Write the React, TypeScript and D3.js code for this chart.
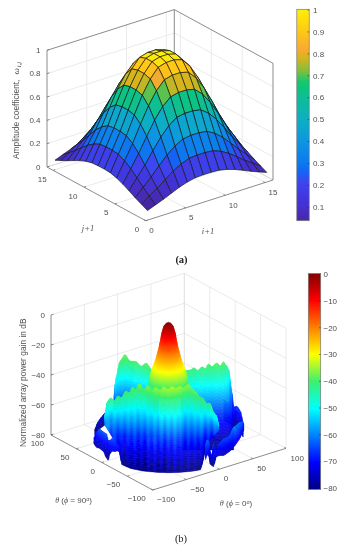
import React, { useMemo } from "react";
import * as d3 from "d3";

// ---------- panel (a) data ----------
const taper = [0.19, 0.33, 0.47, 0.63, 0.78, 0.9, 0.98, 1, 1, 0.98, 0.9, 0.78, 0.63, 0.47, 0.33, 0.19];
const ticksA = [0, 5, 10, 15];
const zTicksA = [0, 0.2, 0.4, 0.6, 0.8, 1];
const barTicksA = [0.1, 0.2, 0.3, 0.4, 0.5, 0.6, 0.7, 0.8, 0.9, 1];
const parulaV = [0.04, 0.08, 0.15, 0.22, 0.26, 0.3, 0.4, 0.5, 0.6, 0.67, 0.72, 0.78, 0.82, 0.9, 0.95, 1];
const parulaC = ["#4628a5", "#462dc3", "#4137e1", "#3c46f0", "#1464f5", "#0a78f0", "#0a96e1", "#0aafc3", "#0abe96", "#14c86e", "#82be3c", "#d7b41e", "#faaa32", "#ffc814", "#ffdc0a", "#faf00a"];

// ---------- panel (b) data (gain in dB, s = across view, d = towards viewer, in degrees) ----------
const ticksB = [-100, -50, 0, 50, 100];
const zTicksB = [-80, -60, -40, -20, 0];
const barTicksB = [0, -10, -20, -30, -40, -50, -60, -70, -80];
const jetG = [-80, -70, -60, -50, -40, -30, -20, -10, 0];
const jetC = ["#000082", "#0000ff", "#0080ff", "#00ffff", "#3cf06e", "#ffff00", "#ff8000", "#ff0000", "#800000"];
const lobeGain = [-46, -38, -32, -26, -20, -14, -7, -3, -1, 0];
const lobeRadius = [25, 23.3, 20.3, 16.1, 13.1, 10.7, 8.4, 6, 3, 0];
const wallT = [0, 0.3, 0.6, 1];
const wallFrac = [1, 0.68, 0.34, 0];

const frontS = [-76, -73, -69, -64.5, -60.5, -56, -51, -47, -43, -39, -34.6, -29.5, -24.5, -20, -15, -10, -5.4, -0.5, 4, 9, 13.7, 18, 23, 28, 33, 37, 41, 45.5, 50, 54, 57, 60];
const frontGain = [-52, -43, -41, -43, -40, -42, -39, -41, -38, -40, -36.5, -39, -36, -38, -35, -36, -33.5, -34.5, -33, -34.5, -34, -36, -35, -37, -37.5, -39.5, -39.5, -42, -41, -45, -46, -52];
const frontDepthS = [-76, -72, -60, -48, -36, -24, -12, 0, 12, 24, 36, 48, 56, 60];
const frontDepth = [47, 43, 41, 28, 20, 30, 41, 46, 41, 28, 44, 56, 70, 73];
const frontBaseS = [-76, -65, -59, -56, -45, -30, -15, 0, 15, 30, 38, 40, 44, 50, 60];
const frontBaseDepth = [38.5, 47, 59, 66, 78, 85, 88.7, 90, 88.7, 85, 81.6, 70, 42, 38, 44];
const frontBaseGain = [-60, -68, -72, -80, -80, -80, -80, -80, -80, -80, -80, -80, -76, -70, -62];
const streakS = [-76, -72, -68, -64, -60, -56, -52, -48, -44, -40, -36, -32, -28, -24, -20, -16, -12, -8, -4, 0, 4, 8, 12, 16, 20, 24, 28, 32, 36, 40, 44, 48, 52, 56, 60];
const streakDb = [0, 3, -2, 3, -3, 2, -3, 3, -2, 4, -3, 2, -4, 3, -2, 4, -3, 3, -4, 2, -3, 4, -2, 3, -4, 3, -3, 2, -4, 3, -2, 3, -3, 2, 0];

const leftS = [-65, -63, -58, -52, -46, -39, -33, -26, -20, -12];
const leftGain = [-60, -48, -40, -37, -40, -39, -41, -38, -40, -38];
const leftDepthS = [-63, -58, -52, -40, -26, -18];
const leftDepth = [-45, -60, -66, -55, -45, -30];
const leftBaseDepth = [-13, -13];

const rightS = [15, 28, 30, 35, 40, 44, 47.5, 52, 57.5, 62, 65.4, 69, 72, 75.4, 77.5];
const rightGain = [-40, -41, -40, -42, -40, -41.5, -38.5, -40.5, -38.5, -40.5, -38, -41, -44, -56, -66];
const rightDepthS = [15, 28, 47, 65, 72, 77.5];
const rightDepth = [-30, -40, -45, -49, -54, -46];
const rightBaseDepth = [24, 24];

const fringeLS = [-89, -86, -82, -78, -74, -72, -70, -67, -64, -61, -58];
const fringeLTop = [-74, -67, -63, -63, -63, -66.5, -66, -64, -64, -67, -68];
const fringeLBase = [-78, -77.5, -76, -76, -79, -80, -75, -72.5, -72, -71, -71];
const fringeRS = [44, 46, 48, 50, 52, 53.5, 55, 57, 60, 66, 72, 78, 84, 88, 89.7];
const fringeRTop = [-64, -61, -62, -70, -72, -64, -68, -70, -66, -64, -64, -60, -60, -62, -66];
const fringeRBase = [-74, -71, -72, -78, -79, -80, -78, -74, -74, -75, -74.5, -73, -71.5, -70, -70.5];
const backLS = [-88, -84, -80, -76, -72, -66];
const backLTop = [-76, -74, -73, -72, -72, -72];
const backRS = [66, 70, 74, 78, 82, 86, 89];
const backRTop = [-66, -67, -65, -67, -65, -66, -70];

// ---------- geometry ----------
const A = { fx: 145.7, fy: 220.7, lx: 47, ly: 167, rx: 273, ry: 180, h: 116.7 };
const B = { fx: 152.7, fy: 490, lx: 51, ly: 435, rx: 286, ry: 448.3, h: 120 };
const TEXT = "#505050";
const GRID = "#e4e4e4";
const AXIS = "#6e6e6e";
const font = "'Liberation Sans', Arial, sans-serif";

const u01 = d3.scaleLinear().domain([0, 16]).range([0, 1]);
const zA = d3.scaleLinear().domain([0, 1]).range([0, A.h]);
const projA = (i: number, j: number, z: number): [number, number] => [
  A.fx + u01(i) * (A.rx - A.fx) + u01(j) * (A.lx - A.fx),
  A.fy + u01(i) * (A.ry - A.fy) + u01(j) * (A.ly - A.fy) - zA(z),
];
const u100 = d3.scaleLinear().domain([-100, 100]).range([0, 1]);
const zB = d3.scaleLinear().domain([-80, 0]).range([0, B.h]);
const projB = (x: number, y: number, z: number): [number, number] => [
  B.fx + u100(x) * (B.rx - B.fx) + u100(y) * (B.lx - B.fx),
  B.fy + u100(x) * (B.ry - B.fy) + u100(y) * (B.ly - B.fy) - zB(z),
];
const sPx = d3.scaleLinear().domain([-90, 90]).range([168.5 - 75.4, 168.5 + 75.4]);
const dPx = d3.scaleLinear().domain([-90, 90]).range([441.7 - 31.05, 441.7 + 31.05]);
const projV = (s: number, d: number, g: number): [number, number] => [sPx(s), dPx(d) - zB(g)];

const parula = d3.scaleLinear<string>().domain(parulaV).range(parulaC).clamp(true);
const jet = d3.scaleLinear<string>().domain(jetG).range(jetC).clamp(true);
const profile = d3.scaleLinear().domain(wallT).range(wallFrac);

function eased(xs: number[], ys: number[]) {
  return (x: number) => {
    const i = Math.max(0, Math.min(xs.length - 2, d3.bisectRight(xs, x) - 1));
    const t = Math.max(0, Math.min(1, (x - xs[i]) / (xs[i + 1] - xs[i])));
    return ys[i] + (ys[i + 1] - ys[i]) * d3.easeSinInOut(t);
  };
}
const linear = (xs: number[], ys: number[]) => d3.scaleLinear().domain(xs).range(ys).clamp(true);
const rim = (s: number) => Math.sqrt(Math.max(0, 8100 - s * s));

type Poly = { p: string; c: string };
function sheet(
  s0: number, s1: number, step: number, rows: number,
  dTop: (s: number) => number, gTop: (s: number) => number,
  dBase: (s: number) => number, gBase: (s: number) => number,
  prof: (t: number) => number, streak?: (s: number) => number
): Poly[] {
  const out: Poly[] = [];
  const pt = (s: number, t: number): [number, number] => {
    const a = projV(s, dTop(s), gTop(s));
    const b = projV(s, dBase(s), gBase(s));
    return [a[0] + (b[0] - a[0]) * t, a[1] + (b[1] - a[1]) * t];
  };
  for (let s = s0; s < s1 - 1e-6; s += step) {
    const n = Math.min(s + step, s1);
    const m = (s + n) / 2;
    for (let r = 0; r < rows; r++) {
      const t0 = r / rows, t1 = (r + 1) / rows, tm = (t0 + t1) / 2;
      const g = gBase(m) + (gTop(m) - gBase(m)) * prof(tm) + (streak ? streak(m) * tm : 0);
      const q = [pt(s, t0), pt(n, t0), pt(n, t1), pt(s, t1)];
      out.push({ p: q.map((v) => v[0].toFixed(1) + "," + v[1].toFixed(1)).join(" "), c: jet(g) });
    }
  }
  return out;
}
const line = (k: string, a: [number, number], b: [number, number], c: string, w = 0.8) => (
  <line key={k} x1={a[0]} y1={a[1]} x2={b[0]} y2={b[1]} stroke={c} strokeWidth={w} />
);
const T = (p: any) => <text fontFamily={font} fontSize={8} fill={TEXT} {...p} />;

export default function App() {
  const facetsA = useMemo(() => {
    const out: { p: string; c: string }[] = [];
    const w = (i: number, j: number) => taper[i] * taper[j];
    for (let i = 14; i >= 0; i--)
      for (let j = 14; j >= 0; j--) {
        const q = [projA(i + 1, j + 1, w(i, j)), projA(i + 2, j + 1, w(i + 1, j)), projA(i + 2, j + 2, w(i + 1, j + 1)), projA(i + 1, j + 2, w(i, j + 1))];
        out.push({ p: q.map((v) => v.map((n) => n.toFixed(1)).join(",")).join(" "), c: parula(w(i, j)) });
      }
    return out;
  }, []);

  const surfaceB = useMemo(() => {
    const flat = () => -80;
    const lin = (t: number) => 1 - t;
    const backL = sheet(backLS[0], backLS[backLS.length - 1], 1.2, 5, (s) => -rim(s), eased(backLS, backLTop), (s) => -rim(s), flat, lin);
    const backR = sheet(backRS[0], backRS[backRS.length - 1], 1.2, 5, (s) => -rim(s), eased(backRS, backRTop), (s) => -rim(s), flat, lin);
    const left = sheet(leftS[0], leftS[leftS.length - 1], 1.2, 26, linear(leftDepthS, leftDepth), eased(leftS, leftGain), linear([-65, -12], leftBaseDepth), flat, profile);
    const right = sheet(rightS[0], rightS[rightS.length - 1], 1.2, 26, linear(rightDepthS, rightDepth), eased(rightS, rightGain), linear([15, 78], rightBaseDepth), flat, profile);
    const front = sheet(frontS[0], frontS[frontS.length - 1], 1.2, 34, linear(frontDepthS, frontDepth), eased(frontS, frontGain), linear(frontBaseS, frontBaseDepth), linear(frontBaseS, frontBaseGain), profile, eased(streakS, streakDb));
    const fl = sheet(fringeLS[0], fringeLS[fringeLS.length - 1], 0.8, 8, (s) => rim(s), eased(fringeLS, fringeLTop), (s) => rim(s), eased(fringeLS, fringeLBase), lin);
    const fr = sheet(fringeRS[0], fringeRS[fringeRS.length - 1], 0.8, 8, (s) => rim(s), eased(fringeRS, fringeRTop), (s) => rim(s), eased(fringeRS, fringeRBase), lin);
    return { back: [...backL, ...backR, ...left, ...right], front: [...front, ...fl, ...fr] };
  }, []);

  const lobeRows = useMemo(() => {
    const rad = d3.scaleLinear().domain(lobeGain).range(lobeRadius);
    return d3.range(-46, 0.01, 0.75).map((g) => ({ g, r: rad(g) }));
  }, []);

  const barA = d3.scaleLinear().domain([0.04, 1]).range([220.7, 9.3]);
  const barATick = d3.scaleLinear().domain([0.1, 1]).range([207.3, 10]);
  const barB = d3.scaleLinear().domain([-80, 0]).range([489.5, 273.5]);
  const barBTick = d3.scaleLinear().domain([-80, -10]).range([488.3, 301]);

  return (
    <svg width={342} height={550} style={{ position: "absolute", left: 0, top: 0, background: "#fff" }}>
      <defs>
        <filter id="soft" x="0" y="0" width="100%" height="100%" filterUnits="objectBoundingBox">
          <feGaussianBlur stdDeviation="0.42" />
        </filter>
        <linearGradient id="gA" x1="0" y1="1" x2="0" y2="0">
          {parulaV.map((v, i) => <stop key={v} offset={(v - 0.04) / 0.96} stopColor={parulaC[i]} />)}
        </linearGradient>
        <linearGradient id="gB" x1="0" y1="1" x2="0" y2="0">
          {jetG.map((v, i) => <stop key={v} offset={(v + 80) / 80} stopColor={jetC[i]} />)}
        </linearGradient>
      </defs>
      <rect width={342} height={550} fill="#fff" />
      <g filter="url(#soft)">
        {/* ---------- panel a ---------- */}
        {ticksA.filter((t) => t > 0).map((t) => (
          <g key={"ga" + t}>
            {line("a", projA(t, 16, 0), projA(t, 16, 1), GRID)}
            {line("b", projA(16, t, 0), projA(16, t, 1), GRID)}
            {line("c", projA(t, 0, 0), projA(t, 16, 0), GRID)}
            {line("d", projA(0, t, 0), projA(16, t, 0), GRID)}
          </g>
        ))}
        {zTicksA.filter((t) => t > 0 && t < 1).map((t) => (
          <g key={"gz" + t}>
            {line("a", projA(0, 16, t), projA(16, 16, t), GRID)}
            {line("b", projA(16, 16, t), projA(16, 0, t), GRID)}
          </g>
        ))}
        {line("af1", projA(0, 16, 0), projA(16, 16, 0), "#c9c9c9")}
        {line("af2", projA(16, 16, 0), projA(16, 0, 0), "#c9c9c9")}
        {line("at1", projA(0, 16, 1), projA(16, 16, 1), AXIS)}
        {line("at2", projA(16, 16, 1), projA(16, 0, 1), AXIS)}
        {line("at3", projA(16, 16, 0), projA(16, 16, 1), AXIS)}
        {line("at4", projA(16, 0, 0), projA(16, 0, 1), AXIS)}
        {line("at5", projA(0, 16, 0), projA(0, 16, 1), AXIS)}
        {line("at6", projA(0, 0, 0), projA(16, 0, 0), AXIS)}
        {line("at7", projA(0, 0, 0), projA(0, 16, 0), AXIS)}
        {facetsA.map((f, k) => <polygon key={k} points={f.p} fill={f.c} stroke="#141414" strokeWidth={0.65} strokeLinejoin="round" />)}
        {zTicksA.map((t) => {
          const p = projA(0, 16, t);
          return (
            <g key={"zt" + t}>
              {line("t", p, [p[0] + 2.5, p[1] - 0.8], AXIS)}
              <T x={p[0] - 6.5} y={p[1] + 2.7} textAnchor="end">{String(t)}</T>
            </g>
          );
        })}
        {ticksA.map((t) => {
          const a = projA(t, 0, 0), b = projA(0, t, 0);
          return (
            <g key={"xt" + t}>
              {line("t1", a, [a[0] - 1.7, a[1] - 1], AXIS)}
              {line("t2", b, [b[0] + 2, b[1] - 0.7], AXIS)}
              <T x={a[0] + 3.5} y={a[1] + 12.5}>{String(t)}</T>
              <T x={b[0] - 6.5} y={b[1] + 11.5} textAnchor="end">{String(t)}</T>
            </g>
          );
        })}
        <text x={208} y={233.5} fontFamily="'Liberation Serif', serif" fontStyle="italic" fontSize={8.5} fill={TEXT} textAnchor="middle">i+1</text>
        <text x={88} y={231} fontFamily="'Liberation Serif', serif" fontStyle="italic" fontSize={8.5} fill={TEXT} textAnchor="middle">j+1</text>
        <text transform="translate(18.5,159) rotate(-90)" fontFamily={font} fontSize={8.4} fill={TEXT}>
          Amplitude coefficient,
          <tspan dx={5} fontFamily="'Liberation Serif', serif" fontStyle="italic" fontSize={9}>ω</tspan>
          <tspan dx={1} dy={2} fontFamily="'Liberation Serif', serif" fontStyle="italic" fontSize={6.5}>i,j</tspan>
        </text>
        <rect x={296.8} y={9.3} width={12.4} height={211.4} fill="url(#gA)" stroke="#777" strokeWidth={0.7} />
        {barTicksA.map((t) => (
          <g key={"ba" + t}>
            {line("t", [307.5, barATick(t)], [309.2, barATick(t)], "#333", 0.6)}
            <T x={313} y={barATick(t) + 2.8}>{String(t)}</T>
          </g>
        ))}
        <text x={181.5} y={262.5} fontFamily="'Liberation Serif', serif" fontWeight="bold" fontSize={10.5} fill="#222" textAnchor="middle">(a)</text>

        {/* ---------- panel b ---------- */}
        {ticksB.slice(1, 4).map((t) => (
          <g key={"gb" + t}>
            {line("a", projB(t, 100, -80), projB(t, 100, 0), GRID)}
            {line("b", projB(100, t, -80), projB(100, t, 0), GRID)}
            {line("c", projB(t, -100, -80), projB(t, 100, -80), GRID)}
            {line("d", projB(-100, t, -80), projB(100, t, -80), GRID)}
          </g>
        ))}
        {zTicksB.slice(1, 4).map((t) => (
          <g key={"gzb" + t}>
            {line("a", projB(-100, 100, t), projB(100, 100, t), GRID)}
            {line("b", projB(100, 100, t), projB(100, -100, t), GRID)}
          </g>
        ))}
        {line("bb1", projB(-100, 100, 0), projB(100, 100, 0), GRID)}
        {line("bb2", projB(100, 100, 0), projB(100, -100, 0), GRID)}
        {line("bb3", projB(100, 100, -80), projB(100, 100, 0), "#d4d4d4")}
        {line("bb4", projB(100, -100, -80), projB(100, -100, 0), GRID)}
        {line("bb5", projB(-100, 100, -80), projB(100, 100, -80), GRID)}
        {line("bb6", projB(100, 100, -80), projB(100, -100, -80), GRID)}
        {line("ba1", projB(-100, 100, -80), projB(-100, 100, 0), AXIS)}
        {line("ba2", projB(-100, -100, -80), projB(100, -100, -80), AXIS)}
        {line("ba3", projB(-100, -100, -80), projB(-100, 100, -80), AXIS)}
        {surfaceB.back.map((f, k) => <polygon key={k} points={f.p} fill={f.c} stroke={f.c} strokeWidth={0.4} />)}
        {lobeRows.map(({ g, r }) => {
          const c = projV(0, 0, g);
          return <ellipse key={g} cx={c[0]} cy={c[1]} rx={Math.max(0.01, sPx(r) - sPx(0))} ry={Math.max(0.01, dPx(r) - dPx(0))} fill={jet(g)} />;
        })}
        {surfaceB.front.map((f, k) => <polygon key={k} points={f.p} fill={f.c} stroke={f.c} strokeWidth={0.4} />)}
        {zTicksB.map((t) => {
          const p = projB(-100, 100, t);
          return (
            <g key={"zb" + t}>
              {line("t", p, [p[0] + 2.5, p[1] - 0.8], AXIS)}
              <T x={p[0] - 6} y={p[1] + 2.7} textAnchor="end">{String(t).replace("-", "\u2212")}</T>
            </g>
          );
        })}
        {ticksB.map((t) => {
          const a = projB(t, -100, -80), b = projB(-100, t, -80);
          return (
            <g key={"xb" + t}>
              {line("t1", a, [a[0] - 1.7, a[1] - 1], AXIS)}
              {line("t2", b, [b[0] + 2, b[1] - 0.7], AXIS)}
              <T x={a[0] + 4.5} y={a[1] + 12.3}>{String(t).replace("-", "\u2212")}</T>
              <T x={b[0] - 7} y={b[1] + 11} textAnchor="end">{String(t).replace("-", "\u2212")}</T>
            </g>
          );
        })}
        <text x={73.5} y={503} fontFamily={font} fontSize={8} fill={TEXT} textAnchor="middle">
          <tspan fontFamily="'Liberation Serif', serif" fontStyle="italic">θ</tspan> (<tspan fontFamily="'Liberation Serif', serif" fontStyle="italic">ϕ</tspan> = 90<tspan dy={-2.5} fontSize={5.5}>o</tspan><tspan dy={2.5}>)</tspan>
        </text>
        <text x={236} y={506} fontFamily={font} fontSize={8} fill={TEXT} textAnchor="middle">
          <tspan fontFamily="'Liberation Serif', serif" fontStyle="italic">θ</tspan> (<tspan fontFamily="'Liberation Serif', serif" fontStyle="italic">ϕ</tspan> = 0<tspan dy={-2.5} fontSize={5.5}>o</tspan><tspan dy={2.5}>)</tspan>
        </text>
        <text transform="translate(26,447) rotate(-90)" fontFamily={font} fontSize={8.4} fill={TEXT}>Normalized array power gain in dB</text>
        <rect x={308.3} y={273.5} width={12.4} height={216} fill="url(#gB)" stroke="#777" strokeWidth={0.7} />
        {barTicksB.map((t) => (
          <g key={"bb" + t}>
            {t !== 0 && line("t", [319, barBTick(t)], [320.7, barBTick(t)], "#333", 0.6)}
            <T x={323.5} y={(t === 0 ? 274 : barBTick(t)) + 2.8}>{String(t).replace("-", "\u2212")}</T>
          </g>
        ))}
        <text x={181} y={541.5} fontFamily="'Liberation Serif', serif" fontSize={10.5} fill="#222" textAnchor="middle">(b)</text>
      </g>
    </svg>
  );
}
